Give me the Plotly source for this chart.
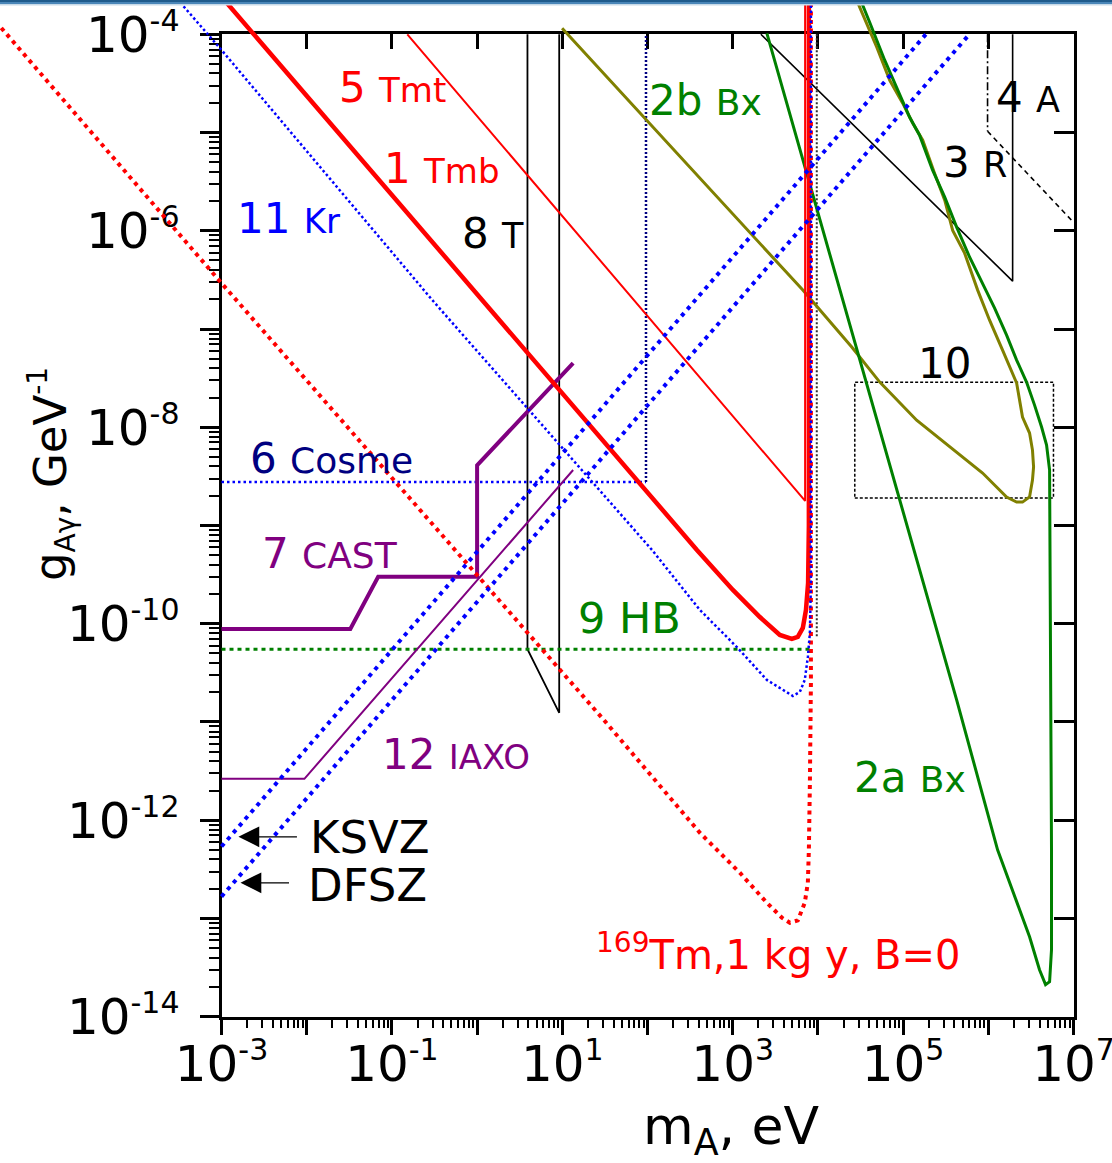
import numpy as np
import plotly.graph_objects as go

# ---------------- data: axion mass m_A (eV) and coupling g_Ay (GeV^-1) ----------------
# 1 Tmb (thick red)
tmb_m = [1.054e-3, 1.148, 380, 1005, 2084, 3573, 4943, 5808, 6653, 7244, 7674, 7834, 7834]
tmb_g = [2.29e-4, 1.97e-7, 5.64e-10, 2.21e-10, 1.17e-10, 7.69e-11, 7.0e-11, 7.35e-11,
         9.06e-11, 1.38e-10, 2.60e-10, 1.0e-9, 2.5e-4]
# 5 Tmt (thin red)
tmt_m = [0.1517, 7079, 7079]
tmt_g = [1.0e-4, 1.78e-9, 2.5e-4]
# 169Tm, 1 kg y, B=0 (red dotted)
b0_m = [2.24e-6, 1e-3, 29.3, 106.9, 412, 1213, 2518, 3776, 4688, 5808, 7015, 7621, 7834,
        8054, 8279, 8279]
b0_g = [1.35e-4, 2.93e-7, 1.10e-11, 2.90e-12, 7.45e-13, 2.92e-13, 1.445e-13, 1.02e-13,
        9.04e-14, 9.55e-14, 1.445e-13, 2.31e-13, 5.0e-13, 2.40e-12, 2.51e-11, 2.5e-4]
# 11 Kr (fine blue dots)
kr_m = [2.75e-4, 1e-3, 0.298, 113, 412, 1119, 2518, 4315, 5082, 6138, 7015, 7621, 8054,
        8279, 8279]
kr_g = [2.51e-4, 6.92e-5, 1.97e-7, 5.64e-10, 1.38e-10, 5.79e-11, 2.68e-11, 1.98e-11,
        1.84e-11, 2.02e-11, 2.68e-11, 4.59e-11, 8.05e-11, 2.60e-10, 2.5e-4]
# QCD axion bands
ksvz_m = [1e-3, 1.85e5]
ksvz_g = [5.4e-13, 1.0e-4]
dfsz_m = [1e-3, 6.0e5]
dfsz_g = [1.67e-13, 1.0e-4]
# 12 IAXO, 7 CAST
iaxo_m = [1e-3, 9.4e-3, 13.4]
iaxo_g = [2.64e-12, 2.64e-12, 3.67e-9]
cast_m = [1e-3, 0.0325, 0.069, 1.0, 1.0, 13.4]
cast_g = [8.85e-11, 8.85e-11, 3.0e-10, 3.0e-10, 4.1e-9, 4.5e-8]
# 9 HB, 6 Cosme
hb_m = [1e-3, 8.4e3]
hb_g = [5.5e-11, 5.5e-11]
cosme_m = [1e-3, 96, 96]
cosme_g = [2.77e-9, 2.77e-9, 1.0e-4]
# 8 T, 3 R, 4 A
t8_m = [3.9, 3.9, 9.2, 9.2]
t8_g = [1.0e-4, 5.5e-11, 1.24e-11, 1.0e-4]
r3_m = [2140, 1.93e6, 1.93e6]
r3_g = [1.0e-4, 3.07e-7, 1.0e-4]
a4_m = [9.8e5, 9.8e5, 1.0e7]
a4_g = [1.0e-4, 1.03e-5, 1.22e-6]
# 10 (dotted box) and the dotted edge next to the Tm line
box10_m = [2.71e4, 5.82e6]
box10_g = [1.9e-9, 2.88e-8]
edge_m = [9.7e3, 9.7e3]
edge_g = [1.0e-4, 7.2e-11]
# 2b Bx (olive loop)
bx2b_m = [9.95, 6.65e3, 2.495e4, 5.32e4, 1.442e5, 3.52e5, 8.57e5, 1.64e6, 2.15e6, 2.52e6,
          3.05e6, 3.30e6, 3.40e6, 3.30e6, 3.05e6, 2.52e6, 2.15e6, 1.47e6, 1.035e6, 7.50e5,
          5.27e5, 3.82e5, 3.08e5, 2.34e5, 1.70e5, 1.30e5, 9.89e4, 6.97e4, 4.91e4, 3.10e4,
          2.71e4]
bx2b_g = [1.151e-4, 2.49e-7, 6.55e-8, 2.88e-8, 1.18e-8, 6.30e-9, 3.42e-9, 1.95e-9, 1.73e-9,
          1.73e-9, 1.95e-9, 2.90e-9, 3.94e-9, 5.86e-9, 8.73e-9, 1.27e-8, 2.82e-8, 6.10e-8,
          1.23e-7, 2.49e-7, 5.92e-7, 1.01e-6, 2.05e-6, 3.85e-6, 8.36e-6, 1.245e-5, 1.99e-5,
          3.40e-5, 7.38e-5, 1.88e-4, 2.51e-4]
# 2a Bx (green)
bx2a_m = [2.52e3, 4.25e5, 1.285e6, 3.05e6, 3.99e6, 4.70e6, 5.24e6, 5.52e6, 5.52e6, 5.37e6,
          5.24e6, 5.24e6, 4.83e6, 4.22e6, 3.49e6, 2.81e6, 2.15e6, 1.64e6, 1.186e6, 8.57e5,
          6.04e5, 4.25e5, 3.08e5, 2.22e5, 1.56e5, 1.194e5, 8.65e4, 6.08e4, 4.06e4, 3.36e4,
          3.16e4]
bx2a_g = [1.02e-4, 1.68e-11, 5.0e-13, 6.52e-14, 3.01e-14, 2.12e-14, 2.27e-14, 4.81e-14,
          5.0e-13, 1.68e-11, 1.14e-9, 3.67e-9, 6.59e-9, 1.005e-8, 1.68e-8, 2.88e-8, 4.83e-8,
          8.67e-8, 1.63e-7, 2.93e-7, 5.38e-7, 1.09e-6, 2.20e-6, 4.14e-6, 9.40e-6, 1.43e-5,
          2.69e-5, 5.45e-5, 1.32e-4, 1.97e-4, 2.51e-4]

# tick labels
x_decades = list(range(-3, 8))
y_decades = list(range(-14, -3))

# ---------------- colours ----------------
RED, BLUE, NAVY = "#ff0000", "#0000ff", "#000080"
GREEN, OLIVE, PURPLE = "#008000", "#808000", "#800080"
FONT = "DejaVu Sans"

# ---------------- geometry (pixels) ----------------
W, H = 1112, 1163
X0, X1 = 221.5, 1073.5      # frame left/right
Y0, Y1 = 34.3, 1016.7       # frame top/bottom
LX, LY = (-3, 7), (-14, -4)
dxp = (X1 - X0) / (LX[1] - LX[0])
dyp = (Y1 - Y0) / (LY[1] - LY[0])
dom_x = [X0 / W, X1 / W]
dom_y = [1 - Y1 / H, 1 - Y0 / H]
full_x = [LX[0] - X0 / dxp, LX[1] + (W - X1) / dxp]
full_y = [LY[0] - (H - Y1) / dyp, LY[1] + Y0 / dyp]

fig = go.Figure()


def curve(m, g, color, width, dash="solid"):
    fig.add_trace(go.Scatter(x=m, y=g, mode="lines", xaxis="x2", yaxis="y2",
                             line=dict(color=color, width=width, dash=dash),
                             hoverinfo="skip", showlegend=False))


# invisible anchors for the frame axes
for xa, ya in (("x", "y"), ("x3", "y"), ("x", "y3")):
    fig.add_trace(go.Scatter(x=[1], y=[1e-10], mode="markers", xaxis=xa, yaxis=ya,
                             marker=dict(opacity=0), hoverinfo="skip", showlegend=False))

# black limits
curve(t8_m, t8_g, "black", 1.8)
curve(r3_m, r3_g, "black", 1.6)
curve(a4_m[:2], a4_g[:2], "black", 1.6, "8px,3px,2px,3px")
curve(a4_m[1:], a4_g[1:], "black", 1.6, "5px,4px")
curve([box10_m[0], box10_m[1], box10_m[1], box10_m[0], box10_m[0]],
      [box10_g[0], box10_g[0], box10_g[1], box10_g[1], box10_g[0]], "black", 1.5, "3px,2px")
curve(edge_m, edge_g, "#333333", 2, "2px,2px")

# horizontal bounds
curve(hb_m, hb_g, GREEN, 3, "4px,4px")
curve(cosme_m[:2], cosme_g[:2], BLUE, 2.5, "2.5px,3px")
curve(cosme_m[1:], cosme_g[1:], NAVY, 2.5, "2px,2px")

# helioscopes
curve(cast_m, cast_g, PURPLE, 4)
curve(iaxo_m, iaxo_g, PURPLE, 2)

# Bx loops
curve(bx2b_m, bx2b_g, OLIVE, 3)
curve(bx2a_m, bx2a_g, GREEN, 3)

# Tm curves
curve(b0_m, b0_g, RED, 4, "4px,4.5px")
curve(tmt_m, tmt_g, RED, 2)
curve(tmb_m, tmb_g, RED, 4.5)
curve(kr_m, kr_g, BLUE, 2.5, "2.5px,2.5px")

# axion model lines
curve(ksvz_m, ksvz_g, BLUE, 4, "4px,5px")
curve(dfsz_m, dfsz_g, BLUE, 4, "4px,5px")


def exp_label(d):
    return f'10<sup><span style="font-size:30px">{d}</span></sup>'


x_text = [exp_label(d) if (d + 3) % 2 == 0 else "" for d in x_decades]
y_text = [exp_label(d) if d % 2 == 0 else "" for d in y_decades]
x_major = [10.0 ** d for d in x_decades]
y_major = [10.0 ** d for d in y_decades]
x_minor = [k * 10.0 ** d for d in x_decades[:-1] for k in range(2, 10)]
y_minor = [k * 10.0 ** d for d in y_decades[:-1] for k in range(2, 10)]

axis_common = dict(type="log", showgrid=False, zeroline=False, showline=True,
                   linewidth=3, linecolor="black", tickcolor="black", tickwidth=2.5,
                   automargin=False)

fig.update_layout(
    template="none",
    width=W, height=H, margin=dict(l=0, r=0, t=0, b=0, autoexpand=False),
    paper_bgcolor="white", plot_bgcolor="rgba(0,0,0,0)", showlegend=False,
    font=dict(family=FONT, color="black"),
    xaxis=dict(**axis_common, domain=dom_x, range=list(LX), anchor="y",
               ticks="outside", ticklen=15, tickmode="array", tickvals=x_major,
               ticktext=x_text, tickfont=dict(size=50, family=FONT),
               ticklabelstandoff=-14, ticklabeloverflow="allow",
               minor=dict(tickmode="array", tickvals=x_minor, ticks="outside",
                          ticklen=8, tickwidth=2, tickcolor="black", showgrid=False)),
    yaxis=dict(**axis_common, domain=dom_y, range=list(LY), anchor="x",
               ticks="outside", ticklen=19, tickmode="array", tickvals=y_major,
               ticktext=y_text, tickfont=dict(size=50, family=FONT),
               ticklabelstandoff=10, ticklabeloverflow="allow",
               minor=dict(tickmode="array", tickvals=y_minor, ticks="outside",
                          ticklen=10, tickwidth=2, tickcolor="black", showgrid=False)),
    xaxis3=dict(**axis_common, overlaying="x", side="top", anchor="y", range=list(LX),
                ticks="inside", ticklen=15, tickmode="array", tickvals=x_major,
                showticklabels=False),
    yaxis3=dict(**axis_common, overlaying="y", side="right", anchor="x", range=list(LY),
                ticks="inside", ticklen=20, tickmode="array", tickvals=y_major,
                showticklabels=False),
    xaxis2=dict(type="log", domain=[0, 1], range=full_x, anchor="y2", visible=False,
                automargin=False),
    yaxis2=dict(type="log", domain=[0, 1], range=full_y, anchor="x2", visible=False,
                automargin=False),
)

# curve labels: (html, log10 m, log10 g, colour, size)
def small(t, s=34):
    return f'<span style="font-size:{s}px">{t}</span>'


labels = [
    ("5 " + small("Tmt"), -0.995, -4.539, RED, 42),
    ("1 " + small("Tmb"), -0.409, -5.363, RED, 42),
    ("2b " + small("Bx", 36), 2.686, -4.671, GREEN, 42),
    ("4 " + small("A", 35), 6.461, -4.641, "black", 42),
    ("3 " + small("R", 35), 5.839, -5.302, "black", 42),
    ("11 " + small("Kr"), -2.215, -5.872, BLUE, 42),
    ("8 " + small("T", 35), 0.189, -6.024, "black", 42),
    ("10", 5.488, -7.347, "black", 42),
    ("6 " + small("Cosme", 36), -1.710, -8.313, NAVY, 42),
    ("7 " + small("CAST", 36), -1.722, -9.280, PURPLE, 42),
    ("9 HB", 1.783, -9.941, GREEN, 43),
    ("12 " + small("IAXO"), -0.245, -11.335, PURPLE, 42),
    ("2a " + small("Bx", 36), 5.077, -11.569, GREEN, 42),
    ('<sup><span style="font-size:28px">169</span></sup>Tm,1 kg y, B=0',
     3.542, -13.339, RED, 40),
]
for txt, lx, ly, col, sz in labels:
    fig.add_annotation(x=lx, y=ly, xref="x", yref="y", text=txt, showarrow=False,
                       xanchor="center", yanchor="middle",
                       font=dict(family=FONT, size=sz, color=col))

for txt, lx, ly in (("KSVZ", -1.980, -12.179), ("DFSZ", -2.003, -12.667)):
    fig.add_annotation(x=lx, y=ly, xref="x", yref="y", text=txt, showarrow=False,
                       xanchor="left", yanchor="middle",
                       font=dict(family=FONT, size=45, color="black"))

# arrows pointing at the KSVZ and DFSZ lines
for lx, ly, ax in ((-2.801, -12.169, 60), (-2.777, -12.637, 50)):
    fig.add_annotation(x=lx, y=ly, xref="x", yref="y", ax=ax, ay=0, text="",
                       showarrow=True, arrowhead=2, arrowsize=3.2, arrowwidth=1.3,
                       arrowcolor="black", standoff=0)

# axis titles
fig.add_annotation(x=731 / W, y=1 - 1130 / H, xref="paper", yref="paper",
                   text="m<sub>A</sub>, eV", showarrow=False, xanchor="center",
                   yanchor="middle", font=dict(family=FONT, size=52, color="black"))
fig.add_annotation(x=52 / W, y=1 - 474 / H, xref="paper", yref="paper",
                   text=('g<sub><span style="font-size:28px">Aγ</span></sub>, '
                         'GeV<sup><span style="font-size:28px">-1</span></sup>'),
                   showarrow=False, textangle=-90, xanchor="center", yanchor="middle",
                   font=dict(family=FONT, size=45, color="black"))

# header strip along the top edge
fig.add_shape(type="rect", xref="paper", yref="paper", x0=0, x1=1, y0=1 - 2 / H, y1=1,
              fillcolor="#1f5b8c", line_width=0, layer="above")
fig.add_shape(type="rect", xref="paper", yref="paper", x0=0, x1=1, y0=1 - 4 / H,
              y1=1 - 2 / H, fillcolor="#4a86b8", line_width=0, layer="above")
fig.add_shape(type="rect", xref="paper", yref="paper", x0=0, x1=1, y0=1 - 5.5 / H,
              y1=1 - 4 / H, fillcolor="#c8dae8", line_width=0, layer="above")

fig.write_html("out.html")
